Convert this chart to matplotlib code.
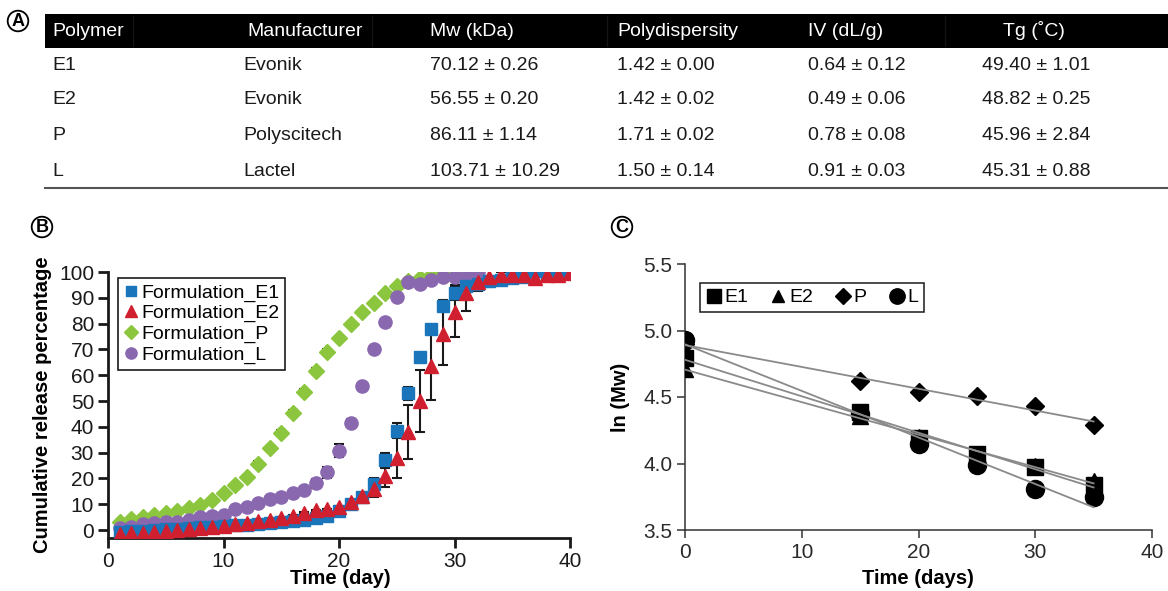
import numpy as np
import matplotlib
matplotlib.use("Agg")
import matplotlib.pyplot as plt
from matplotlib.patches import Rectangle
from matplotlib.lines import Line2D

plt.rcParams['font.family'] = ['Liberation Sans', 'DejaVu Sans']

# ---------------- Table (panel A) ----------------
table_header = ["Polymer", "Manufacturer", "Mw (kDa)", "Polydispersity", "IV (dL/g)", "Tg (˚C)"]
table_polymer = ["E1", "E2", "P", "L"]
table_manufacturer = ["Evonik", "Evonik", "Polyscitech", "Lactel"]
table_mw = ["70.12 ± 0.26", "56.55 ± 0.20", "86.11 ± 1.14", "103.71 ± 10.29"]
table_pdi = ["1.42 ± 0.00", "1.42 ± 0.02", "1.71 ± 0.02", "1.50 ± 0.14"]
table_iv = ["0.64 ± 0.12", "0.49 ± 0.06", "0.78 ± 0.08", "0.91 ± 0.03"]
table_tg = ["49.40 ± 1.01", "48.82 ± 0.25", "45.96 ± 2.84", "45.31 ± 0.88"]

# ---------------- Panel B: release data ----------------
days_E1 = list(range(1, 41))
release_E1 = [-0.8, -0.5, -0.2, 0.0, 0.3, 0.5, 0.8, 1.0, 1.2, 1.5, 1.8, 2.0, 2.3, 2.6, 3.0,
              3.4, 3.8, 4.5, 5.5, 7.5, 10.0, 12.8, 18.0, 27.0, 38.5, 53.0, 67.0, 78.0, 87.0, 92.0,
              94.5, 95.5, 96.5, 97.0, 97.5, 98.0, 100.3, 99.0, 99.5, 100.0]
sd_E1 = [0.3] * 20 + [0.5, 1.0, 2.0, 3.0, 3.0, 2.5, 1.0, 1.0, 2.0, 3.0, 2.0, 1.0] + [0.5] * 8

days_E2 = list(range(1, 41))
release_E2 = [-1.5, -1.2, -1.0, -0.8, -0.3, 0.0, 0.3, 0.8, 1.2, 1.7, 2.2, 2.8, 3.3, 4.0, 4.6,
              5.6, 6.6, 7.6, 8.0, 9.0, 11.0, 13.0, 16.0, 21.0, 28.0, 38.0, 50.0, 63.5, 76.0, 84.5,
              92.0, 96.0, 98.0, 99.0, 99.0, 99.0, 97.5, 99.0, 99.0, 99.5]
sd_E2 = [0.3] * 20 + [0.5, 1.0, 3.3, 4.5, 8.0, 10.5, 12.0, 13.0, 12.0, 9.5, 7.0, 3.2, 4.0, 1.0] + [0.5] * 6

days_P = list(range(1, 32))
release_P = [3.2, 4.1, 5.2, 5.8, 6.5, 7.4, 8.4, 9.7, 11.6, 14.2, 17.4, 20.7, 25.6, 31.7, 37.7,
             45.5, 53.5, 61.5, 69.0, 74.5, 80.0, 84.5, 88.0, 92.0, 94.5, 96.5, 97.5, 98.8, 99.5,
             99.5, 100.0]
sd_P = [0.3] * 12 + [1.0, 1.0, 1.2, 1.2, 1.0, 1.2, 1.0] + [0.3] * 12

days_L = list(range(1, 33))
release_L = [0.8, 1.2, 2.2, 2.6, 3.2, 3.2, 3.9, 4.9, 5.4, 5.8, 8.1, 9.0, 10.6, 11.9, 12.9,
             14.2, 15.5, 18.1, 22.3, 30.7, 41.6, 56.0, 70.0, 80.6, 90.5, 96.0, 95.5, 97.0, 98.0,
             98.0, 98.5, 100.0]
sd_L = [0.3] * 15 + [0.8, 1.2, 1.8, 2.0, 2.5, 1.5, 0.5] + [0.3] * 10

# ---------------- Panel C: ln(Mw) degradation ----------------
deg_days = [0, 15, 20, 25, 30, 35]
lnmw_E1 = [4.79, 4.39, 4.19, 4.07, 3.97, 3.84]
lnmw_E2 = [4.71, 4.36, 4.20, 4.06, 3.98, 3.87]
lnmw_P = [4.90, 4.62, 4.54, 4.51, 4.43, 4.29]
lnmw_L = [4.93, 4.37, 4.15, 3.99, 3.81, 3.75]

W, H = 1168, 591
fig = plt.figure(figsize=(W / 100, H / 100), dpi=100)


def fx(px):
    return px / W


def fy(py):
    return 1 - py / H


# ---- Table ----
fig.patches.append(Rectangle((fx(45), fy(48)), 1 - fx(45), 34 / H, transform=fig.transFigure,
                             facecolor='black', edgecolor='none', zorder=0))
for sx in [133, 372, 607, 945]:
    fig.lines.append(Line2D([fx(sx), fx(sx)], [fy(46), fy(16)], transform=fig.transFigure,
                            color='#141414', lw=1))
header_x = [52, 247, 430, 617, 808, 1003]
col_x = [52, 243, 430, 617, 808, 982]
for x, t in zip(header_x, table_header):
    fig.text(fx(x), fy(31), t, color='white', fontsize=14, va='center', ha='left')
row_y = [65, 100, 135, 171]
columns = [table_polymer, table_manufacturer, table_mw, table_pdi, table_iv, table_tg]
for x, col in zip(col_x, columns):
    for y, t in zip(row_y, col):
        fig.text(fx(x), fy(y), t, color='#1a1a1a', fontsize=14, va='center', ha='left')
fig.lines.append(Line2D([fx(45), 1.0], [fy(188), fy(188)], transform=fig.transFigure,
                        color='#555555', lw=1.5))

# Panel letters
for (px, py, letter) in [(18, 21, 'A'), (42, 227, 'B'), (622, 227, 'C')]:
    fig.text(fx(px), fy(py), letter, fontsize=13, fontweight='bold', ha='center', va='center',
             bbox=dict(boxstyle='circle,pad=0.1', fc='white', ec='black', lw=1.3))

# ---- Panel B ----
axB = fig.add_axes([fx(108), fy(538), (570 - 108) / W, (538 - 272) / H])
cols = {'E1': '#1b75bb', 'E2': '#d01f2e', 'P': '#8cc63f', 'L': '#8a68b0'}
series = [
    ('P', days_P, release_P, sd_P, 'D', 8, 'Formulation_P'),
    ('L', days_L, release_L, sd_L, 'o', 9.5, 'Formulation_L'),
    ('E1', days_E1, release_E1, sd_E1, 's', 8.5, 'Formulation_E1'),
    ('E2', days_E2, release_E2, sd_E2, '^', 9.5, 'Formulation_E2'),
]
handles = {}
for key, d, v, s, m, ms, lab in series:
    axB.errorbar(d, v, yerr=s, fmt='none', ecolor='#1a1a1a', elinewidth=1.5, capsize=3.5,
                 capthick=1.5, zorder=2)
for key, d, v, s, m, ms, lab in series:
    h, = axB.plot(d, v, linestyle='none', marker=m, ms=ms, color=cols[key], mec=cols[key],
                  label=lab, zorder=3)
    handles[key] = h
axB.set_xlim(0, 40)
axB.set_ylim(-3.1, 100)
axB.set_xticks([0, 10, 20, 30, 40])
axB.set_yticks(list(range(0, 101, 10)))
for sp in ['top', 'right']:
    axB.spines[sp].set_visible(False)
for sp in ['left', 'bottom']:
    axB.spines[sp].set_linewidth(2)
    axB.spines[sp].set_color('#1a1a1a')
axB.tick_params(direction='out', length=7, width=2, labelsize=15, colors='#1a1a1a', pad=3)
axB.set_xlabel('Time (day)', fontsize=14.5, fontweight='bold')
axB.set_ylabel('Cumulative release percentage', fontsize=14.5, fontweight='bold')
axB.xaxis.set_label_coords((340 - 108) / 462, -0.115)
axB.yaxis.set_label_coords(-0.122, 0.5)
legB = axB.legend([handles['E1'], handles['E2'], handles['P'], handles['L']],
                  ['Formulation_E1', 'Formulation_E2', 'Formulation_P', 'Formulation_L'],
                  loc='upper left', bbox_to_anchor=((118 - 108) / 462, (538 - 278) / 266),
                  borderaxespad=0, fancybox=False, framealpha=1, edgecolor='#1a1a1a',
                  fontsize=14, handlelength=0.7, handletextpad=0.2, labelspacing=0.15,
                  borderpad=0.3, markerscale=0.85)
legB.get_frame().set_linewidth(1.2)

# ---- Panel C ----
axC = fig.add_axes([fx(685), fy(530), (1152 - 685) / W, (530 - 264) / H])
markersC = [('E1', lnmw_E1, 's', 12), ('E2', lnmw_E2, '^', 11), ('P', lnmw_P, 'D', 9),
            ('L', lnmw_L, 'o', 13)]
xs = np.array(deg_days, dtype=float)
hC = []
for key, vals, m, ms in markersC:
    h, = axC.plot(deg_days, vals, linestyle='none', marker=m, ms=ms, color='black', zorder=3)
    hC.append(h)
for key, vals, m, ms in markersC:
    k, b = np.polyfit(xs, np.array(vals), 1)
    xl = np.array([xs.min(), xs.max()])
    axC.plot(xl, k * xl + b, color='#8a8a8a', lw=1.3, zorder=4)
axC.set_xlim(0, 40)
axC.set_ylim(3.5, 5.5)
axC.set_xticks([0, 10, 20, 30, 40])
axC.set_yticks([3.5, 4.0, 4.5, 5.0, 5.5])
axC.set_yticklabels(['3.5', '4.0', '4.5', '5.0', '5.5'])
for sp in ['top', 'right']:
    axC.spines[sp].set_visible(False)
for sp in ['left', 'bottom']:
    axC.spines[sp].set_linewidth(1.1)
    axC.spines[sp].set_color('#333333')
axC.tick_params(direction='out', length=6, width=1.1, labelsize=15, colors='#333333',
                labelcolor='#2a2a2a', pad=3)
axC.set_xlabel('Time (days)', fontsize=14.5, fontweight='bold')
axC.set_ylabel('ln (Mw)', fontsize=14.5, fontweight='bold')
axC.xaxis.set_label_coords((918 - 685) / 467, -0.145)
axC.yaxis.set_label_coords(-0.118, 0.5)
legC = axC.legend(hC, ['E1', 'E2', 'P', 'L'], loc='upper left', ncol=4,
                  bbox_to_anchor=((700 - 685) / 467, (530 - 283) / 266), borderaxespad=0,
                  fancybox=False, framealpha=1, edgecolor='#1a1a1a', fontsize=14,
                  handlelength=0.8, handletextpad=0.15, columnspacing=1.15, borderpad=0.3,
                  markerscale=0.85)
legC.get_frame().set_linewidth(1.1)

fig.savefig('out.png', dpi=100)
